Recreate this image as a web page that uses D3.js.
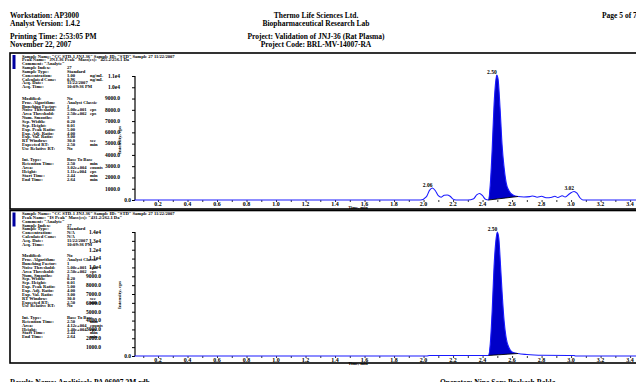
<!DOCTYPE html>
<html><head><meta charset="utf-8">
<script src="https://cdn.jsdelivr.net/npm/d3@7"></script>
<style>
body{margin:0;background:#fff}
svg{display:block}
text{font-family:"Liberation Serif","Times New Roman",serif;font-weight:bold;fill:#000}
</style>
</head><body><svg id="c" width="636" height="382"></svg>
<script>
// ---------- data ----------
const xTickValues = [0.2,0.4,0.6,0.8,1.0,1.2,1.4,1.6,1.8,2.0,2.2,2.4,2.6,2.8,3.0,3.2,3.4];
const xTickLabels = ["0.2","0.4","0.6","0.8","1.0","1.2","1.4","1.6","1.8","2.0","2.2","2.4","2.6","2.8","3.0","3.2","3.4"];

const yTicks1 = [0,1000,2000,3000,4000,5000,6000,7000,8000,9000,10000,11000];
const yTickLabels1 = ["0.0","1000.0","2000.0","3000.0","4000.0","5000.0","6000.0","7000.0","8000.0","9000.0","1.0e4","1.1e4"];
const yTicks2 = [0,1000,2000,3000,4000,5000,6000,7000,8000,9000,10000,11000,12000,13000,14000];
const yTickLabels2 = ["0.0","1000.0","2000.0","3000.0","4000.0","5000.0","6000.0","7000.0","8000.0","9000.0","1.0e4","1.1e4","1.2e4","1.3e4","1.4e4"];

const time1 = [0.04,1.98,2.02,2.04,2.06,2.08,2.10,2.12,2.14,2.16,2.18,2.20,2.22,2.30,2.34,2.36,2.38,2.40,2.42,2.44,2.452,2.465,2.478,2.488,2.496,2.505,2.519,2.532,2.546,2.56,2.58,2.606,2.64,2.68,2.72,2.74,2.77,2.80,2.83,2.87,2.89,2.91,2.94,2.96,2.99,3.02,3.04,3.06,3.08,3.44];
const intensity1 = [0,0,300,850,1070,820,380,250,420,450,330,80,0,0,120,450,580,380,60,0,1340,4470,8490,10370,11090,10730,8050,4920,2860,1520,800,450,310,270,300,360,250,330,200,250,330,220,380,260,560,760,600,200,0,0];

const time2 = [0.04,2.02,2.04,2.42,2.44,2.452,2.465,2.478,2.49,2.50,2.51,2.52,2.533,2.546,2.56,2.58,2.60,2.64,2.70,2.75,2.80,3.00,3.02,3.03,3.44];
const intensity2 = [0,0,60,60,60,1350,5080,10160,12980,14000,13320,10730,7000,3950,2030,900,450,280,170,113,80,60,60,0,0];

const peakTimes1 = [2.06,2.496,3.02];
const peakLabels1 = ["2.06","2.50","3.02"];
const peakTimes2 = [2.50];
const peakLabels2 = ["2.50"];
const integration1 = [2.44,2.64];
const integration2 = [2.44,2.64];

const headerLeft = ["Workstation: AP3000","Analyst Version: 1.4.2","Printing Time: 2:53:05 PM","November 22, 2007"];
const headerCenter = ["Thermo Life Sciences Ltd.","Biopharmaceutical Research Lab","Project: Validation of JNJ-36 (Rat Plasma)","Project Code: BRL-MV-14007-RA"];
const pageLabel = "Page 5 of 7";
const footerLeft = "Results Name: Analiticals PA 06007.3M.rdb";
const footerRight = "Operator: Nine Sons Prakash Bakla";

const meta1Head = ['Sample Name: "CC STD-1 JNJ-36"  Sample ID: "STD"  Sample 27  11/22/2007',
  'Peak Name: "JNJ-36 Peak"  Mass(es): "425.2/256.1 Da"',
  'Comment: "Analyte"'];
const meta2Head = ['Sample Name: "CC STD-1 JNJ-36"  Sample ID: "STD"  Sample 27  11/22/2007',
  'Peak Name: "IS Peak"  Mass(es): "431.2/262.1 Da"',
  'Comment: "Analyte"'];
const meta1Rows = [
 ["Sample Index:","27",""],["Sample Type:","Standard",""],["Concentration:","1.00","ng/mL"],
 ["Calculated Conc:","0.96","ng/mL"],["Acq. Date:","11/22/2007",""],["Acq. Time:","10:09:36 PM",""],
 null,null,
 ["Modified:","No",""],["Proc. Algorithm:","Analyst Classic",""],["Bunching Factor:","1",""],
 ["Noise Threshold:","5.00e+001","cps"],["Area Threshold:","2.50e+002","cps"],["Num. Smooths:","3",""],
 ["Sep. Width:","0.20",""],["Sep. Height:","0.01",""],["Exp. Peak Ratio:","5.00",""],
 ["Exp. Adj. Ratio:","4.00",""],["Exp. Val. Ratio:","3.00",""],["RT Window:","30.0","sec"],
 ["Expected RT:","2.50","min"],["Use Relative RT:","No",""],
 null,null,
 ["Int. Type:","Base To Base",""],["Retention Time:","2.50","min"],["Area:","3.02e+004","counts"],
 ["Height:","1.11e+004","cps"],["Start Time:","2.44","min"],["End Time:","2.64","min"]];
const meta2Rows = [
 ["Sample Index:","27",""],["Sample Type:","Standard",""],["Concentration:","N/A",""],
 ["Calculated Conc:","N/A",""],["Acq. Date:","11/22/2007",""],["Acq. Time:","10:09:36 PM",""],
 null,null,
 ["Modified:","No",""],["Proc. Algorithm:","Analyst Classic",""],["Bunching Factor:","1",""],
 ["Noise Threshold:","5.00e+001","cps"],["Area Threshold:","2.50e+002","cps"],["Num. Smooths:","3",""],
 ["Sep. Width:","0.20",""],["Sep. Height:","0.01",""],["Exp. Peak Ratio:","5.00",""],
 ["Exp. Adj. Ratio:","4.00",""],["Exp. Val. Ratio:","3.00",""],["RT Window:","30.0","sec"],
 ["Expected RT:","2.50","min"],["Use Relative RT:","No",""],
 null,null,
 ["Int. Type:","Base To Base",""],["Retention Time:","2.50","min"],["Area:","4.12e+004","counts"],
 ["Height:","1.40e+004","cps"],["Start Time:","2.44","min"],["End Time:","2.64","min"]];

// ---------- drawing ----------
const svg = d3.select("#c");
svg.append("rect").attr("width",636).attr("height",382).attr("fill","#fff");

// header
const hdr = svg.append("g").attr("font-size",7.5);
const hy = [18,26,39,47];
headerLeft.forEach((t,i)=>hdr.append("text").attr("x",10).attr("y",hy[i]).text(t));
headerCenter.forEach((t,i)=>hdr.append("text").attr("x",316).attr("y",hy[i]).attr("text-anchor","middle").text(t));
hdr.append("text").attr("x",602).attr("y",18).text(pageLabel);

// footer
svg.append("text").attr("x",10).attr("y",385).attr("font-size",7.5).text(footerLeft);
svg.append("text").attr("x",440).attr("y",385).attr("font-size",7.5).text(footerRight);

function panel(cfg){
  const g = svg.append("g");
  g.append("rect").attr("x",10).attr("y",cfg.boxTop).attr("width",640).attr("height",cfg.boxBottom-cfg.boxTop)
    .attr("fill","none").attr("stroke","#000").attr("stroke-width",1.6);
  g.append("rect").attr("x",12.5).attr("y",cfg.boxTop+2).attr("width",3).attr("height",14).attr("fill","#0000a0");

  // metadata
  const m = g.append("g").attr("font-size",4.6);
  const r0 = cfg.boxTop + 4.5, dy = 3.85;
  cfg.head.forEach((t,i)=>m.append("text").attr("x",22).attr("y",r0+i*dy).text(t));
  cfg.rows.forEach((r,i)=>{
    if(!r) return;
    const y = r0 + (i+3)*dy;
    m.append("text").attr("x",22).attr("y",y).text(r[0]);
    m.append("text").attr("x",67).attr("y",y).text(r[1]);
    if(r[2]) m.append("text").attr("x",90).attr("y",y).text(r[2]);
  });

  const x = d3.scaleLinear().domain([0.044,3.44]).range([135,636]);
  const y = d3.scaleLinear().domain([0,cfg.yMax]).range([cfg.bottom,cfg.top]);

  // y axis
  g.append("line").attr("x1",135).attr("x2",135).attr("y1",cfg.top).attr("y2",cfg.bottom)
    .attr("stroke","#000").attr("stroke-width",1.2);
  const yAxis = d3.axisLeft(y).tickValues(cfg.yTicks).tickSize(3).tickFormat((d,i)=>"");
  const ya = g.append("g").attr("transform","translate(135,0)").call(yAxis);
  ya.select(".domain").remove();
  ya.selectAll(".tick line").attr("stroke","#000");
  cfg.yTicks.forEach((v,i)=>{
    g.append("text").attr("x", v===0 ? 131 : cfg.labelRight).attr("y",y(v)+1.8)
      .attr("text-anchor","end").attr("font-size",5.5).text(cfg.yLabels[i]);
  });
  g.append("text").attr("transform",`translate(121,${cfg.ylabelY}) rotate(-90)`)
    .attr("text-anchor","middle").attr("font-size",5).text("Intensity, cps");

  // x axis
  const xAxis = d3.axisBottom(x).tickValues(d3.range(0.1,3.45,0.1)).tickSize(2).tickFormat("");
  const xa = g.append("g").attr("transform",`translate(0,${cfg.bottom})`).call(xAxis);
  xa.select(".domain").remove();
  xa.selectAll(".tick line").attr("stroke","#000").attr("stroke-width",0.8);
  xTickValues.forEach((v,i)=>{
    g.append("text").attr("x",x(v)).attr("y",cfg.bottom+6.3).attr("text-anchor","middle")
      .attr("font-size",6).text(xTickLabels[i]);
  });
  g.append("text").attr("x",358).attr("y",cfg.bottom+8.6).attr("text-anchor","middle")
    .attr("font-size",4.5).text("Time, min");

  // integrated fill
  const pts = cfg.time.map((t,i)=>[t,cfg.inten[i]]);
  const interp = t=>{
    for(let i=1;i<pts.length;i++){ if(t<=pts[i][0]){const a=pts[i-1],b=pts[i];return a[1]+(b[1]-a[1])*(t-a[0])/(b[0]-a[0]);} }
    return 0;
  };
  const [s,e] = cfg.integ;
  const vs = interp(s), ve = interp(e);
  const base = t => vs + (ve-vs)*(t-s)/(e-s);
  const fillPts = pts.filter(p=>p[0]>=s && p[0]<=e);
  g.append("path").datum(fillPts)
    .attr("d", d3.area().x(d=>x(d[0])).y0(d=>y(base(d[0]))).y1(d=>y(d[1])).curve(d3.curveMonotoneX))
    .attr("fill","#0000c8").attr("stroke","none");
  // trace
  g.append("path").datum(pts)
    .attr("d", d3.line().x(d=>x(d[0])).y(d=>y(d[1])).curve(d3.curveMonotoneX))
    .attr("fill","none").attr("stroke","#1a1aff").attr("stroke-width",1.1);
  // integration baseline
  g.append("line").attr("x1",x(s)).attr("y1",y(vs)).attr("x2",x(e)).attr("y2",y(ve))
    .attr("stroke","#000").attr("stroke-width",0.9);
  // peak labels
  cfg.peaks.forEach((t,i)=>{
    g.append("text").attr("x",x(t)).attr("y",y(interp(t))-1.2).attr("text-anchor","end")
      .attr("font-size",5.5).text(cfg.peakLabels[i]);
  });
}

panel({boxTop:53,boxBottom:209,top:76,bottom:200,yMax:11000,yTicks:yTicks1,yLabels:yTickLabels1,
  labelRight:120,ylabelY:140,head:meta1Head,rows:meta1Rows,time:time1,inten:intensity1,
  integ:integration1,peaks:peakTimes1,peakLabels:peakLabels1});
panel({boxTop:210.5,boxBottom:363,top:232,bottom:356,yMax:14000,yTicks:yTicks2,yLabels:yTickLabels2,
  labelRight:101,ylabelY:295,head:meta2Head,rows:meta2Rows,time:time2,inten:intensity2,
  integ:integration2,peaks:peakTimes2,peakLabels:peakLabels2});
</script>
</body></html>
